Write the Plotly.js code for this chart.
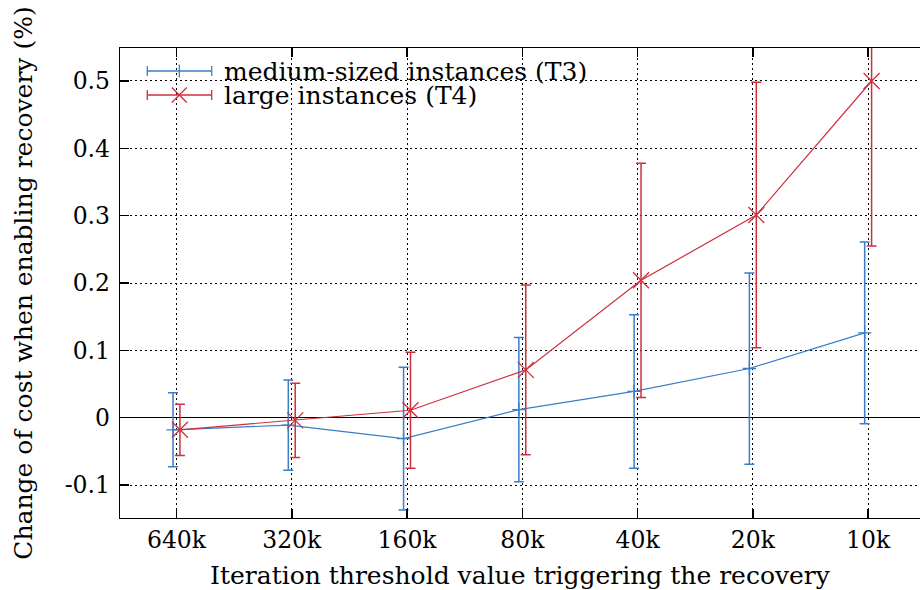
<!DOCTYPE html>
<html>
<head>
<meta charset="utf-8">
<script src="https://cdn.plot.ly/plotly-3.0.1.min.js"></script>
<style>
  html, body { margin: 0; padding: 0; background: #fff; }
  #chart { width: 920px; height: 590px; }
</style>
</head>
<body>
<div id="chart"></div>
<script>
// Recovery threshold experiment: mean change of cost with standard deviation
const thresholds = ['640k', '320k', '160k', '80k', '40k', '20k', '10k'];
const yTickValues = [-0.1, 0, 0.1, 0.2, 0.3, 0.4, 0.5];
const yTickLabels = ['-0.1', '0', '0.1', '0.2', '0.3', '0.4', '0.5'];

// medium-sized instances (T3)
const t3Mean = [-0.018, -0.011, -0.031, 0.012, 0.039, 0.073, 0.126];
const t3Err  = [0.055, 0.067, 0.106, 0.107, 0.114, 0.142, 0.135];

// large instances (T4)
const t4Mean = [-0.018, -0.004, 0.011, 0.071, 0.204, 0.301, 0.500];
const t4Err  = [0.038, 0.055, 0.086, 0.126, 0.174, 0.197, 0.245];

const seriesNames = ['medium-sized instances (T3)', 'large instances (T4)'];

const BLUE = '#3a7dc9';
const RED = '#cf2f3c';
const FONT = 'DejaVu Serif';
const TICK_SIZE = 23.5;
const TEXT_SIZE = 25;

// plot frame in pixels
const W = 920, H = 590;
const M = { l: 120, r: 0, t: 48, b: 72 };
const plotW = W - M.l - M.r, plotH = H - M.t - M.b;
const px = x => (x - M.l) / plotW;          // pixel -> paper x
const py = y => (H - M.b - y) / plotH;      // pixel -> paper y

const idx = thresholds.map((_, i) => i);
const shift = 0.03; // side-by-side offset of the two series

function series(name, means, errs, dx, color, symbol, size) {
  return {
    type: 'scatter',
    mode: 'lines+markers',
    name: name,
    x: idx.map(i => i + dx),
    y: means,
    line: { color: color, width: 1.2 },
    marker: { symbol: symbol, size: size, color: color, line: { color: color, width: 1.3 } },
    error_y: { type: 'data', array: errs, visible: true, color: color, thickness: 1.5, width: 5 },
    cliponaxis: true,
    showlegend: false
  };
}

const traces = [
  series(seriesNames[0], t3Mean, t3Err, -shift, BLUE, 'cross-thin', 9.5),
  series(seriesNames[1], t4Mean, t4Err, shift, RED, 'x-thin', 16)
];

// key in the upper-left corner: error-bar sample with point symbol
function keyShapes(yc, color, kind) {
  const x0 = 147.3, x1 = 211.7, xm = 179.3;
  const s = [];
  const seg = (ax, ay, bx, by) => s.push({
    type: 'line', xref: 'paper', yref: 'paper',
    x0: px(ax), y0: py(ay), x1: px(bx), y1: py(by),
    line: { color: color, width: 1.3 }
  });
  seg(x0, yc, x1, yc);
  seg(x0, yc - 5, x0, yc + 5);
  seg(x1, yc - 5, x1, yc + 5);
  if (kind === 'plus') {
    seg(xm, yc - 6.5, xm, yc + 6.5);
  } else {
    seg(xm - 7.5, yc - 7.5, xm + 7.5, yc + 7.5);
    seg(xm - 7.5, yc + 7.5, xm + 7.5, yc - 7.5);
  }
  return s;
}

const keyY = [71, 95];
const shapes = [].concat(
  keyShapes(keyY[0], BLUE, 'plus'),
  keyShapes(keyY[1], RED, 'x')
);

const annotations = seriesNames.map((t, k) => ({
  text: t, xref: 'paper', yref: 'paper',
  x: px(222), y: py(keyY[k] + 0.5), xanchor: 'left', yanchor: 'middle',
  showarrow: false, font: { family: FONT, size: TEXT_SIZE, color: '#000' }
}));

const gridDash = '1.5px,3.5px';

const layout = {
  width: W, height: H,
  margin: M,
  paper_bgcolor: '#fff', plot_bgcolor: '#fff',
  font: { family: FONT, color: '#000' },
  showlegend: false,
  xaxis: {
    range: [-0.49, 6.45],
    tickvals: idx, ticktext: thresholds,
    tickfont: { family: FONT, size: TICK_SIZE, color: '#000' },
    ticks: 'inside', ticklen: 9, tickwidth: 1.5, tickcolor: '#000',
    showline: true, linecolor: '#000', linewidth: 1.3, mirror: 'ticks',
    showgrid: true, gridcolor: '#000', gridwidth: 1, griddash: gridDash,
    zeroline: false,
    ticklabelstandoff: 0,
    title: { text: 'Iteration threshold value triggering the recovery',
             font: { family: FONT, size: TEXT_SIZE, color: '#000' }, standoff: 15 },
    automargin: false
  },
  yaxis: {
    range: [-0.149, 0.549],
    tickvals: yTickValues, ticktext: yTickLabels,
    tickfont: { family: FONT, size: TICK_SIZE, color: '#000' },
    ticks: 'inside', ticklen: 9, tickwidth: 1.5, tickcolor: '#000',
    showline: true, linecolor: '#000', linewidth: 1.3, mirror: false,
    showgrid: true, gridcolor: '#000', gridwidth: 1, griddash: gridDash,
    zeroline: true, zerolinecolor: '#000', zerolinewidth: 1.3,
    ticklabelstandoff: 4,
    title: { text: 'Change of cost when enabling recovery (%)',
             font: { family: FONT, size: TEXT_SIZE, color: '#000' }, standoff: 25 },
    automargin: false
  },
  shapes: shapes,
  annotations: annotations
};

Plotly.newPlot('chart', traces, layout, { displayModeBar: false, staticPlot: true });
</script>
</body>
</html>
